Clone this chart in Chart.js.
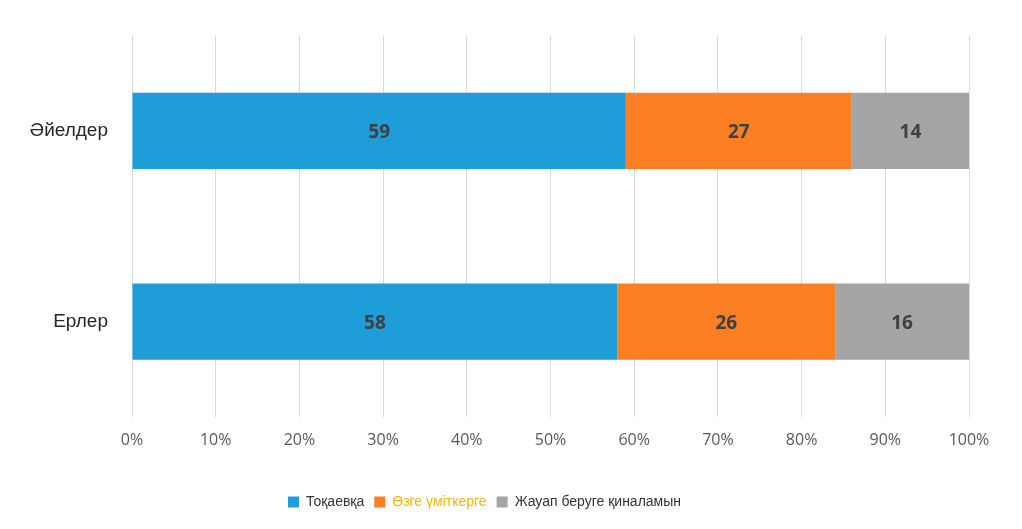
<!DOCTYPE html>
<html><head><meta charset="utf-8">
<script src="https://cdn.jsdelivr.net/npm/chart.js@4/dist/chart.umd.min.js"></script>
<style>html,body{margin:0;padding:0;background:#fff}#w{width:1022px;height:529px}</style>
</head><body><div id="w"><canvas id="c"></canvas></div>
<script>
const categories = ["Әйелдер", "Ерлер"];
const seriesNames = ["Тоқаевқа", "Өзге үміткерге", "Жауап беруге қиналамын"];
const tokaevValues = [59, 58];
const otherValues = [27, 26];
const undecidedValues = [14, 16];
const colors = ["#1f9dd9", "#fd7f23", "#a5a5a5"];
const legendTextColors = ["#333333", "#f5b800", "#333333"];

const labelPlugin = {
  id: 'vals',
  afterDatasetsDraw(chart) {
    const ctx = chart.ctx;
    ctx.save();
    ctx.font = "bold 19px 'Open Sans', sans-serif";
    ctx.fillStyle = "#404040";
    ctx.textAlign = "center"; ctx.textBaseline = "middle";
    chart.data.datasets.forEach((ds, i) => {
      chart.getDatasetMeta(i).data.forEach((bar, j) => {
        const x = (bar.x + bar.base) / 2;
        ctx.fillText(ds.data[j], x, bar.y + 2);
      });
    });
    ctx.restore();
  }
};

new Chart(document.getElementById('c'), {
  type: 'bar',
  data: {
    labels: categories,
    datasets: [tokaevValues, otherValues, undecidedValues].map((d, i) => ({
      label: seriesNames[i], data: d, backgroundColor: colors[i],
      categoryPercentage: 1, barPercentage: 0.4
    }))
  },
  options: {
    indexAxis: 'y', responsive: true, maintainAspectRatio: false, animation: false,
    layout: { padding: { top: 17, right: 53, bottom: 10, left: 0 } },
    scales: {
      x: {
        stacked: true, min: 0, max: 100,
        ticks: { stepSize: 10, callback: v => v + '%', color: '#595959', font: { size: 16, family: "'Open Sans', sans-serif" }, padding: 14 },
        grid: { color: '#d9d9d9', drawTicks: false },
        border: { display: false },
        afterFit: s => { s.height = 68; }
      },
      y: {
        stacked: true,
        ticks: { color: '#262626', font: { size: 19, family: "'Liberation Sans', Arial, sans-serif" }, padding: 24 },
        grid: { display: false, drawTicks: false },
        border: { display: false },
        afterFit: s => { s.width = 132; }
      }
    },
    plugins: {
      tooltip: { enabled: false },
      legend: {
        position: 'bottom',
        labels: {
          boxWidth: 11, boxHeight: 11, padding: 10,
          font: { size: 14, family: "'Liberation Sans', Arial, sans-serif" },
          generateLabels: chart => chart.data.datasets.map((ds, i) => ({
            text: ds.label, fillStyle: colors[i], strokeStyle: colors[i], lineWidth: 0,
            fontColor: legendTextColors[i], datasetIndex: i, hidden: false
          }))
        }
      }
    }
  },
  plugins: [labelPlugin]
});
</script></body></html>
